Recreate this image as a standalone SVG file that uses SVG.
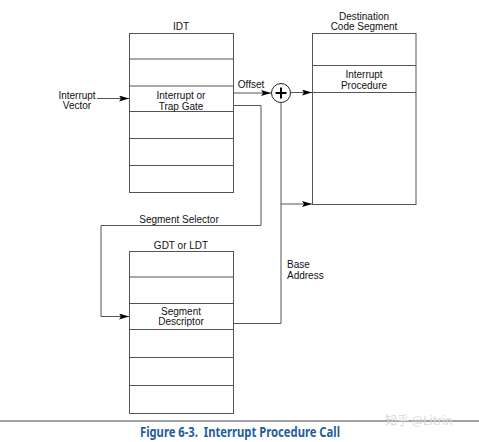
<svg xmlns="http://www.w3.org/2000/svg" width="479" height="442" viewBox="0 0 479 442">
<defs>
<marker id="ah" viewBox="0 0 10 6" refX="10" refY="3" markerWidth="10" markerHeight="6" markerUnits="userSpaceOnUse" orient="auto">
<path d="M0,0 L10,3 L0,6 L2,3 Z" fill="#000"/>
</marker>
<style>
.box{fill:#fff;stroke:#555;stroke-width:1}
.row{stroke:#555;stroke-width:1}
.ln{fill:none;stroke:#555;stroke-width:1}
.t{font-family:"Liberation Sans",Arial,sans-serif;font-size:10px;fill:#111;text-anchor:middle}
.ts{text-anchor:start}
</style>
</defs>
<rect width="479" height="442" fill="#fff"/>

<g id="idt">
<text class="t" x="181" y="29.5">IDT</text>
<rect class="box" x="129.5" y="33.5" width="104" height="159"/>
<line class="row" x1="129.5" y1="59" x2="233.5" y2="59"/>
<line class="row" x1="129.5" y1="86" x2="233.5" y2="86"/>
<line class="row" x1="129.5" y1="111.5" x2="233.5" y2="111.5"/>
<line class="row" x1="129.5" y1="138.5" x2="233.5" y2="138.5"/>
<line class="row" x1="129.5" y1="165.5" x2="233.5" y2="165.5"/>
<text class="t" x="181" y="98.5">Interrupt or</text>
<text class="t" x="181" y="109.5">Trap Gate</text>
</g>

<g id="vector">
<text class="t" x="77" y="98.5">Interrupt</text>
<text class="t" x="77" y="109">Vector</text>
</g>

<g id="dest">
<text class="t" x="364" y="19.5">Destination</text>
<text class="t" x="364" y="29.5">Code Segment</text>
<rect class="box" x="312.5" y="33.5" width="103.5" height="171"/>
<line class="row" x1="312.5" y1="65.5" x2="416" y2="65.5"/>
<line class="row" x1="312.5" y1="92.5" x2="416" y2="92.5"/>
<text class="t" x="364" y="77.5">Interrupt</text>
<text class="t" x="364" y="89">Procedure</text>
</g>

<g id="gdt">
<text class="t" x="181" y="248.5">GDT or LDT</text>
<rect class="box" x="129.5" y="251.5" width="104" height="162"/>
<line class="row" x1="129.5" y1="277" x2="233.5" y2="277"/>
<line class="row" x1="129.5" y1="303.5" x2="233.5" y2="303.5"/>
<line class="row" x1="129.5" y1="329.5" x2="233.5" y2="329.5"/>
<line class="row" x1="129.5" y1="357.5" x2="233.5" y2="357.5"/>
<line class="row" x1="129.5" y1="385.5" x2="233.5" y2="385.5"/>
<text class="t" x="181" y="314.5">Segment</text>
<text class="t" x="181" y="325">Descriptor</text>
</g>

<g id="adder">
<circle cx="281" cy="93" r="9.5" fill="#fff" stroke="#222" stroke-width="1"/>
<path d="M275.5,93 H286.5 M281,87.5 V98.5" stroke="#000" stroke-width="2" fill="none"/>
</g>

<g id="connectors">
<line class="ln" x1="97" y1="98.5" x2="129" y2="98.5" marker-end="url(#ah)"/>
<line class="ln" x1="233.5" y1="93" x2="271" y2="93" marker-end="url(#ah)"/>
<line class="ln" x1="291" y1="92.5" x2="312" y2="92.5" marker-end="url(#ah)"/>
<line class="ln" x1="281" y1="102.5" x2="281" y2="323.5"/>
<line class="ln" x1="281" y1="204" x2="312" y2="204" marker-end="url(#ah)"/>
<polyline class="ln" points="233.5,105.5 261,105.5 261,225.5 101,225.5 101,316.5 129,316.5" marker-end="url(#ah)"/>
<line class="ln" x1="233.5" y1="323.5" x2="281" y2="323.5"/>
<text class="t" x="251" y="88">Offset</text>
<text class="t" x="179" y="223">Segment Selector</text>
<text class="t ts" x="287" y="268">Base</text>
<text class="t ts" x="287" y="279">Address</text>
</g>

<line x1="0" y1="421" x2="479" y2="421" stroke="#444" stroke-width="1"/>
<text x="385" y="425" font-family="'Noto Sans CJK SC','Liberation Sans',sans-serif" font-size="12" fill="#d8d8d8">知乎 @Litrin</text>
<text x="140" y="437" font-family="'Noto Sans','Liberation Sans',sans-serif" font-size="13.5" font-weight="bold" fill="#1f5d9c" textLength="200" lengthAdjust="spacingAndGlyphs">Figure 6-3.&#160; Interrupt Procedure Call</text>
</svg>
